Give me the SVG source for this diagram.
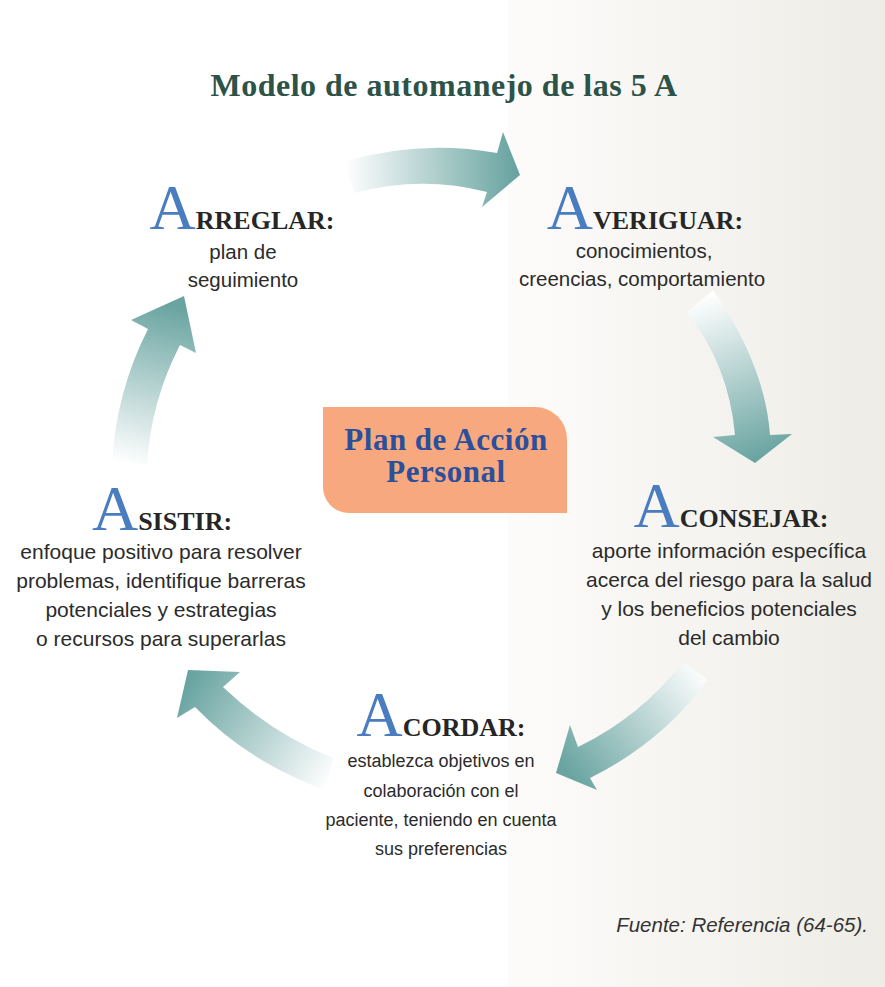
<svg xmlns="http://www.w3.org/2000/svg" width="885" height="987" viewBox="0 0 885 987">
<defs>
<linearGradient id="bg" x1="508" y1="0" x2="885" y2="0" gradientUnits="userSpaceOnUse">
<stop offset="0" stop-color="#fdfcfb"/><stop offset="1" stop-color="#eeece6"/>
</linearGradient>
<linearGradient id="g1" x1="345" y1="175" x2="515" y2="170" gradientUnits="userSpaceOnUse">
<stop offset="0" stop-color="#ffffff"/><stop offset="1" stop-color="#69a4a1"/>
</linearGradient>
<linearGradient id="g2" x1="695" y1="300" x2="755" y2="460" gradientUnits="userSpaceOnUse">
<stop offset="0" stop-color="#ffffff"/><stop offset="1" stop-color="#69a4a1"/>
</linearGradient>
<linearGradient id="g3" x1="700" y1="665" x2="565" y2="770" gradientUnits="userSpaceOnUse">
<stop offset="0" stop-color="#ffffff"/><stop offset="1" stop-color="#69a4a1"/>
</linearGradient>
<linearGradient id="g4" x1="335" y1="775" x2="190" y2="680" gradientUnits="userSpaceOnUse">
<stop offset="0" stop-color="#ffffff"/><stop offset="1" stop-color="#69a4a1"/>
</linearGradient>
<linearGradient id="g5" x1="130" y1="465" x2="170" y2="305" gradientUnits="userSpaceOnUse">
<stop offset="0" stop-color="#ffffff"/><stop offset="1" stop-color="#69a4a1"/>
</linearGradient>
<style>
.hd { font-family: "Liberation Serif", "Times New Roman", serif; font-weight: bold; font-size: 26px; fill: #262626; text-anchor: middle; }
.big { font-size: 64px; font-weight: normal; fill: #4a7cc0; }
.bd { font-family: "Liberation Sans", Arial, sans-serif; font-size: 20.5px; fill: #2b2b2b; text-anchor: middle; }
.sm { font-size: 18px; }
.lg { font-size: 21px; }
.pl { font-family: "Liberation Serif", "Times New Roman", serif; font-weight: bold; font-size: 31px; fill: #2b4f9b; text-anchor: middle; letter-spacing: 0.5px; }
</style>
</defs>
<rect x="0" y="0" width="885" height="987" fill="#ffffff"/>
<rect x="508" y="0" width="377" height="987" fill="url(#bg)"/>

<text x="444" y="96" font-family="'Liberation Serif', 'Times New Roman', serif" font-weight="bold" font-size="32" letter-spacing="0.5" fill="#2d5248" text-anchor="middle">Modelo de automanejo de las 5 A</text>

<g id="connectors">
<path d="M343,162 Q419,139 497,153 L503,132 L520,175 L482,207 L487,192 Q421,175 355,193 Z" fill="url(#g1)"/>
<path d="M713,290 Q765,365 770,435 L792,434 L755,463 L713,437 L735,435 Q729,366 687,312 Z" fill="url(#g2)"/>
<path d="M683,662 Q640,717 578,747 L570,725 L556,773 L597,790 L590,778 Q661,743 708,680 Z" fill="url(#g3)"/>
<path d="M333,758 Q271,733 223,687 L240,672 L188,670 L177,718 L195,707 Q248,762 325,790 Z" fill="url(#g4)"/>
<path d="M147,465 Q151,401 180,345 L196,353 L184,296 L131,320 L148,329 Q116,392 112,463 Z" fill="url(#g5)"/>
</g>

<g id="plan">
<path d="M323,407 L535,407 A32,32 0 0 1 567,439 L567,513 L349,513 A26,26 0 0 1 323,487 Z" fill="#f8a87e"/>
<text class="pl" x="446" y="450">Plan de Acción</text>
<text class="pl" x="446" y="482">Personal</text>
</g>

<g id="averiguar">
<text class="hd" x="645" y="229"><tspan class="big">A</tspan>VERIGUAR:</text>
<text class="bd" x="644" y="258">conocimientos,</text>
<text class="bd" x="642" y="286">creencias, comportamiento</text>
</g>

<g id="aconsejar">
<text class="hd" x="731" y="527"><tspan class="big">A</tspan>CONSEJAR:</text>
<text class="bd lg" x="729" y="558">aporte información específica</text>
<text class="bd lg" x="729" y="587">acerca del riesgo para la salud</text>
<text class="bd lg" x="729" y="616">y los beneficios potenciales</text>
<text class="bd lg" x="729" y="645">del cambio</text>
</g>

<g id="acordar">
<text class="hd" x="441" y="736"><tspan class="big">A</tspan>CORDAR:</text>
<text class="bd sm" x="441" y="767">establezca objetivos en</text>
<text class="bd sm" x="441" y="797">colaboración con el</text>
<text class="bd sm" x="441" y="826">paciente, teniendo en cuenta</text>
<text class="bd sm" x="441" y="855">sus preferencias</text>
</g>

<g id="asistir">
<text class="hd" x="162" y="530"><tspan class="big">A</tspan>SISTIR:</text>
<text class="bd lg" x="161" y="559">enfoque positivo para resolver</text>
<text class="bd lg" x="161" y="588">problemas, identifique barreras</text>
<text class="bd lg" x="161" y="617">potenciales y estrategias</text>
<text class="bd lg" x="161" y="646">o recursos para superarlas</text>
</g>

<g id="arreglar">
<text class="hd" x="242" y="229"><tspan class="big">A</tspan>RREGLAR:</text>
<text class="bd" x="243" y="259">plan de</text>
<text class="bd" x="243" y="287">seguimiento</text>
</g>

<text x="868" y="932" font-family="'Liberation Sans', Arial, sans-serif" font-style="italic" font-size="20.5" fill="#333333" text-anchor="end">Fuente: Referencia (64-65).</text>
</svg>
